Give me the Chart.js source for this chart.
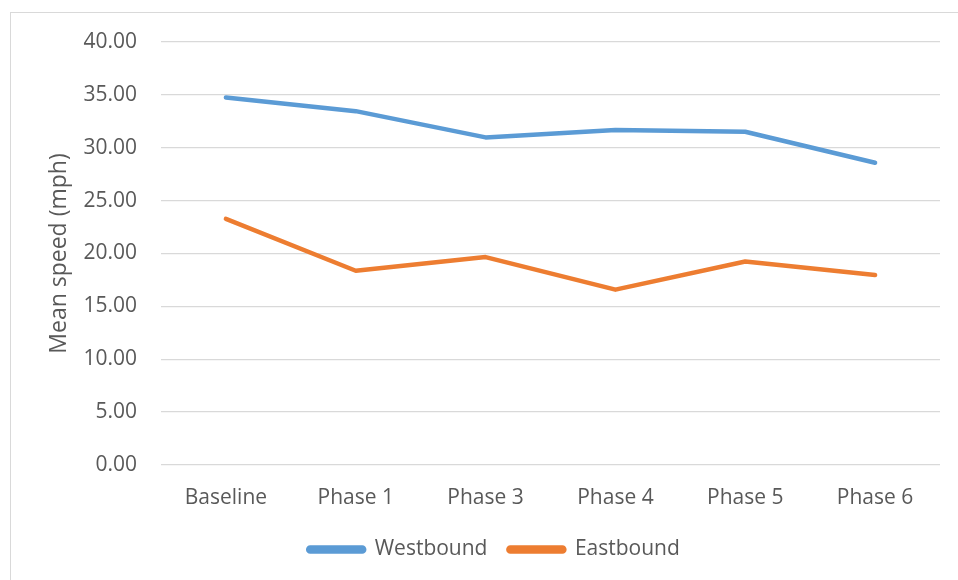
<!DOCTYPE html>
<html>
<head>
<meta charset="utf-8">
<script src="https://cdn.jsdelivr.net/npm/chart.js"></script>
<style>
  html, body { margin: 0; padding: 0; background: #fff; }
  #wrap { position: relative; width: 958px; height: 580px; overflow: hidden; }
  #frame { position: absolute; left: 10px; top: 12px; width: 980px; height: 600px; border: 1px solid #d9d9d9; box-sizing: border-box; }
  #wrap canvas { position: absolute; left: 0; top: 0; }
</style>
</head>
<body>
<div id="wrap">
  <div id="frame"></div>
  <canvas id="line-chart" width="958" height="580"></canvas>
</div>
<script>
const categories = ['Baseline', 'Phase 1', 'Phase 3', 'Phase 4', 'Phase 5', 'Phase 6'];
const westbound = [34.75, 33.46, 30.98, 31.67, 31.51, 28.58];
const eastbound = [23.27, 18.37, 19.66, 16.58, 19.25, 17.96];
const yTicks = [0, 5, 10, 15, 20, 25, 30, 35, 40];

const textColor = '#595959';
const fontFamily = '"Open Sans", "Liberation Sans", sans-serif';

const ctx = document.getElementById('line-chart');
Chart.defaults.color = textColor;
Chart.defaults.font.family = fontFamily;

// nudge the legend to the right, like the original
const legendShift = {
    id: 'legendShift',
    afterLayout(chart) {
        chart.legend.left += 24;
        chart.legend.right += 24;
    }
};

new Chart(ctx, {
    type: 'line',
    data: {
        labels: categories,
        datasets: [
            {
                label: 'Westbound',
                data: westbound,
                borderColor: '#5B9BD5',
                backgroundColor: '#5B9BD5',
                borderWidth: 4.5,
                borderCapStyle: 'round',
                borderJoinStyle: 'round',
                pointRadius: 0,
                tension: 0
            },
            {
                label: 'Eastbound',
                data: eastbound,
                borderColor: '#ED7D31',
                backgroundColor: '#ED7D31',
                borderWidth: 4.5,
                borderCapStyle: 'round',
                borderJoinStyle: 'round',
                pointRadius: 0,
                tension: 0
            }
        ]
    },
    options: {
        responsive: false,
        animation: false,
        layout: {
            padding: { left: 0, right: 18, top: 42, bottom: 10 }
        },
        scales: {
            x: {
                offset: true,
                grid: { display: false, drawTicks: false },
                border: { display: false },
                ticks: { padding: 20, font: { size: 21 }, color: textColor },
                afterFit: (scale) => { scale.height = 64; }
            },
            y: {
                min: 0,
                max: 40,
                afterBuildTicks: (scale) => { scale.ticks = yTicks.map(v => ({ value: v })); },
                grid: { color: '#d9d9d9', lineWidth: 1.3, drawTicks: false },
                border: { display: false },
                ticks: {
                    padding: 24,
                    font: { size: 21 },
                    color: textColor,
                    callback: (v) => Number(v).toFixed(2)
                },
                title: {
                    display: true,
                    text: 'Mean speed (mph)',
                    color: textColor,
                    font: { size: 23 },
                    padding: { top: 46, bottom: 0 }
                },
                afterFit: (scale) => { scale.width = 161; }
            }
        },
        plugins: {
            legend: {
                position: 'bottom',
                labels: {
                    boxWidth: 56,
                    boxHeight: 4,
                    useBorderRadius: true,
                    borderRadius: 2,
                    padding: 10,
                    font: { size: 21 },
                    color: textColor,
                    generateLabels: (chart) => {
                        const items = Chart.defaults.plugins.legend.labels.generateLabels(chart);
                        items[0].text += '  ';
                        return items;
                    }
                }
            },
            tooltip: { enabled: false }
        }
    },
    plugins: [legendShift]
});
</script>
</body>
</html>
